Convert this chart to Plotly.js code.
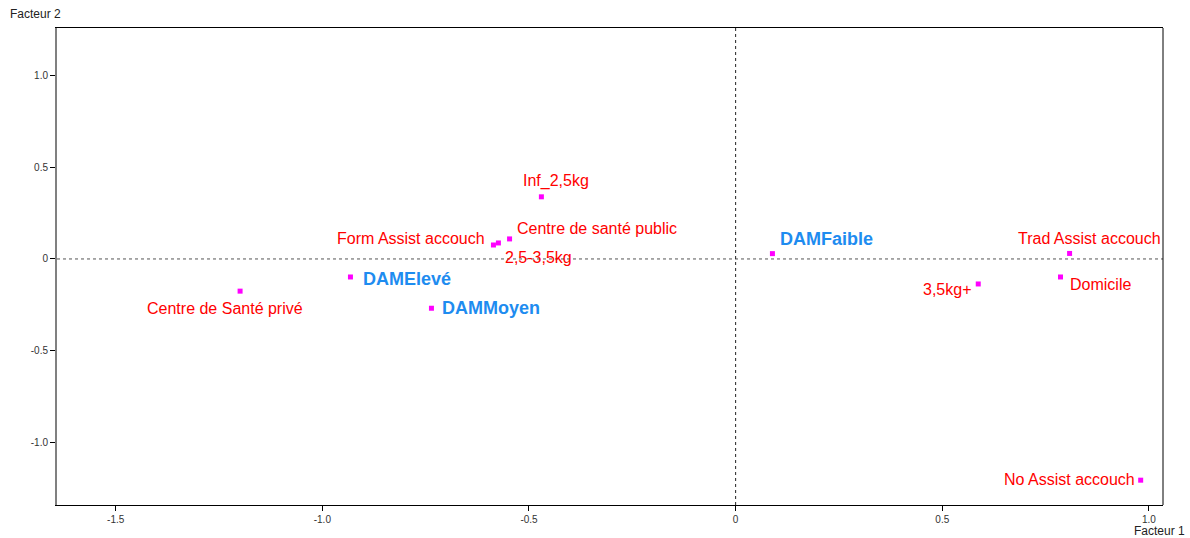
<!DOCTYPE html>
<html>
<head>
<meta charset="utf-8">
<script src="https://cdn.plot.ly/plotly-3.0.1.min.js"></script>
<style>html,body{margin:0;padding:0;background:#fff;}#chart{width:1190px;height:538px;}</style>
</head>
<body>
<div id="chart"></div>
<script>
// Modalities (red) and supplementary (blue) categories
var redLabels = ["Inf_2,5kg","Centre de santé public","Form Assist accouch","2,5-3,5kg","Centre de Santé privé","Trad Assist accouch","Domicile","3,5kg+","No Assist accouch"];
var redX = [-0.470,-0.547,-0.586,-0.574,-1.199,0.808,0.786,0.587,0.980];
var redY = [0.338,0.109,0.076,0.087,-0.175,0.030,-0.098,-0.136,-1.203];

var blueLabels = ["DAMElevé","DAMMoyen","DAMFaible"];
var blueX = [-0.932,-0.736,0.089];
var blueY = [-0.098,-0.268,0.029];

var xTickVals = [-1.5,-1.0,-0.5,0,0.5,1.0];
var xTickText = ["-1.5","-1.0","-0.5","0","0.5","1.0"];
var yTickVals = [-1.0,-0.5,0,0.5,1.0];
var yTickText = ["-1.0","-0.5","0","0.5","1.0"];

// label placement styles (anchor, pixel shifts)
var redStyle = [
  {a:"center",dx:15,dy:16},
  {a:"left",dx:5,dy:10},
  {a:"right",dx:-6,dy:6},
  {a:"left",dx:5,dy:-15},
  {a:"center",dx:-15,dy:-17},
  {a:"center",dx:20,dy:15},
  {a:"left",dx:7,dy:-8},
  {a:"right",dx:-5,dy:-6},
  {a:"right",dx:-4,dy:1}
];
var blueStyle = [
  {a:"left",dx:11,dy:-2},
  {a:"left",dx:9,dy:0},
  {a:"left",dx:6,dy:15}
];

var annotations = [];
redLabels.forEach(function(t,i){
  annotations.push({x:redX[i],y:redY[i],xref:"x",yref:"y",text:t,showarrow:false,
    xanchor:redStyle[i].a,yanchor:"middle",xshift:redStyle[i].dx,yshift:redStyle[i].dy,
    font:{family:"Liberation Sans, Arial, sans-serif",size:16,color:"#ff0000"}});
});
blueLabels.forEach(function(t,i){
  annotations.push({x:blueX[i],y:blueY[i],xref:"x",yref:"y",text:"<b>"+t+"</b>",showarrow:false,
    xanchor:blueStyle[i].a,yanchor:"middle",xshift:blueStyle[i].dx,yshift:blueStyle[i].dy,
    font:{family:"Liberation Sans, Arial, sans-serif",size:18,color:"#1e8cf0"}});
});
annotations.push({xref:"paper",yref:"paper",x:-0.044,y:1.0,xanchor:"left",yanchor:"bottom",yshift:5,
  text:"Facteur 2",showarrow:false,font:{family:"Liberation Sans, Arial, sans-serif",size:12,color:"#222"}});
annotations.push({xref:"paper",yref:"paper",x:1.0,y:0,xanchor:"right",yanchor:"top",xshift:24,yshift:-17,
  text:"Facteur 1",showarrow:false,font:{family:"Liberation Sans, Arial, sans-serif",size:12,color:"#222"}});

var traces = [
  {x:redX.concat(blueX),y:redY.concat(blueY),mode:"markers",type:"scatter",
   marker:{symbol:"square",size:5,color:"#ff00ff"},hoverinfo:"skip"}
];

var layout = {
  width:1190,height:538,
  margin:{l:57,r:27,t:28,b:33},
  paper_bgcolor:"#fff",plot_bgcolor:"#fff",
  showlegend:false,
  xaxis:{range:[-1.642,1.034],showgrid:false,zeroline:false,showline:true,linecolor:"#000",linewidth:1,mirror:true,
    ticks:"outside",ticklen:5,tickcolor:"#000",tickvals:xTickVals,ticktext:xTickText,
    tickfont:{family:"Liberation Sans, Arial, sans-serif",size:10,color:"#333"}},
  yaxis:{range:[-1.338,1.256],showgrid:false,zeroline:false,showline:true,linecolor:"#808080",linewidth:2,mirror:false,
    ticks:"outside",ticklen:5,tickcolor:"#000",tickvals:yTickVals,ticktext:yTickText,
    tickfont:{family:"Liberation Sans, Arial, sans-serif",size:10,color:"#333"}},
  shapes:[
    {type:"line",xref:"paper",yref:"y",x0:0,x1:1,y0:0,y1:0,line:{color:"#555",width:1,dash:"dot"}},
    {type:"line",xref:"x",yref:"paper",x0:0,x1:0,y0:0,y1:1,line:{color:"#222",width:1,dash:"dot"}},
    {type:"line",xref:"paper",yref:"paper",x0:1,x1:1,y0:0,y1:1,line:{color:"#000",width:1}}
  ],
  annotations:annotations
};

Plotly.newPlot("chart",traces,layout,{displayModeBar:false,staticPlot:true});
</script>
</body>
</html>
